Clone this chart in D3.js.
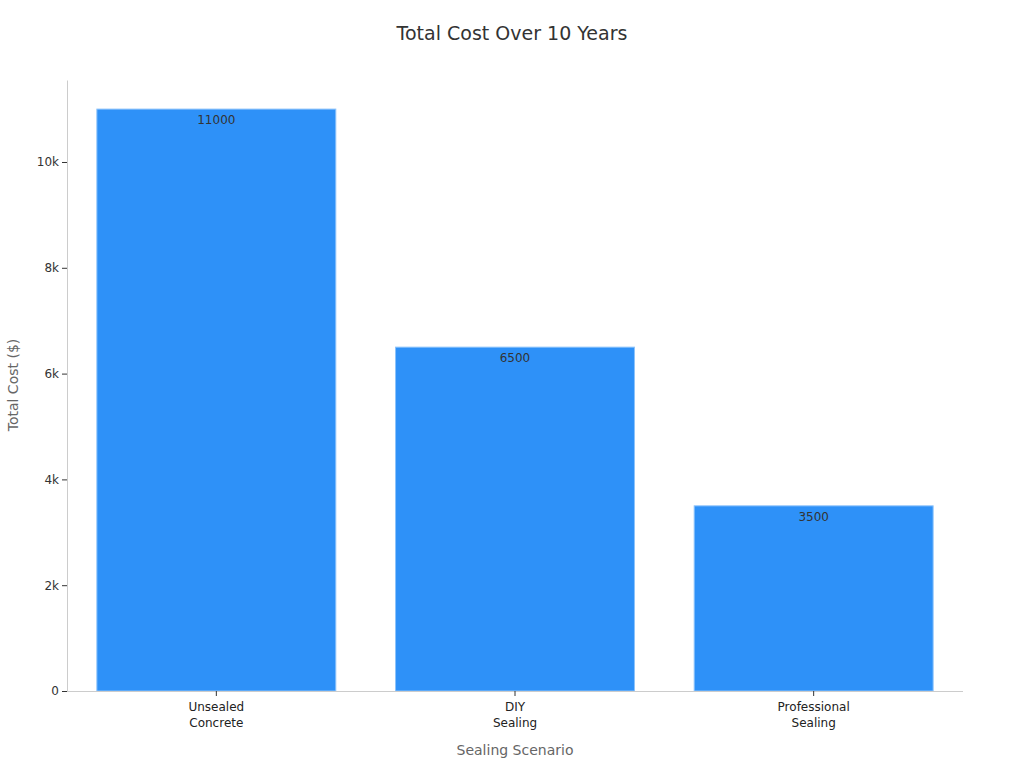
<!DOCTYPE html><html><head><meta charset="utf-8"><script src="https://cdn.jsdelivr.net/npm/d3@7"></script>
<style>body{margin:0;background:#fff;font-family:"DejaVu Sans",sans-serif}</style></head><body><svg id="c" width="1024" height="768"></svg>
<script>
const categories=[["Unsealed","Concrete"],["DIY","Sealing"],["Professional","Sealing"]];
const values=[11000,6500,3500];
const yTicks=[0,2000,4000,6000,8000,10000];
const svg=d3.select("#c");
const m={l:67,r:963,t:80,b:691};
const x=d3.scaleBand().domain(d3.range(values.length)).range([m.l,m.r]).paddingInner(0.2).paddingOuter(0.1);
const y=d3.scaleLinear().domain([0,11550]).range([m.b,m.t]);
svg.append("text").attr("x",512).attr("y",40).attr("text-anchor","middle").attr("font-size",19).attr("fill","#333").text("Total Cost Over 10 Years");
svg.selectAll("rect.bar").data(values).enter().append("rect").attr("x",(d,i)=>x(i)).attr("width",x.bandwidth()).attr("y",d=>y(d)).attr("height",d=>y(0)-y(d)).attr("fill","#2e91f8").attr("stroke","#8cc3fb").attr("stroke-width",1);
svg.selectAll("text.v").data(values).enter().append("text").attr("x",(d,i)=>x(i)+x.bandwidth()/2).attr("y",d=>y(d)+15).attr("text-anchor","middle").attr("font-size",12).attr("fill","#333").text(d=>d);
const ya=svg.append("g").attr("transform",`translate(${m.l},0)`).call(d3.axisLeft(y).tickValues(yTicks).tickFormat(d=>d===0?"0":d/1000+"k").tickSize(5).tickSizeOuter(0));
ya.select(".domain").attr("stroke","#ccc");ya.selectAll(".tick line").attr("stroke","#333");
ya.selectAll("text").attr("font-size",12).attr("fill","#333").attr("font-family","DejaVu Sans");
svg.append("line").attr("x1",m.l).attr("x2",m.r).attr("y1",m.b+0.5).attr("y2",m.b+0.5).attr("stroke","#ccc");
const xa=svg.append("g");
categories.forEach((c,i)=>{const cx=x(i)+x.bandwidth()/2;
 xa.append("line").attr("x1",cx).attr("x2",cx).attr("y1",m.b).attr("y2",m.b+5).attr("stroke","#333");
 c.forEach((s,j)=>xa.append("text").attr("x",cx).attr("y",m.b+20+j*15.5).attr("text-anchor","middle").attr("font-size",12).attr("fill","#222").text(s));});
svg.append("text").attr("x",515).attr("y",755).attr("text-anchor","middle").attr("font-size",14).attr("fill","#666").text("Sealing Scenario");
svg.append("text").attr("transform","translate(18,385) rotate(-90)").attr("text-anchor","middle").attr("font-size",14).attr("fill","#666").text("Total Cost ($)");
</script></body></html>
